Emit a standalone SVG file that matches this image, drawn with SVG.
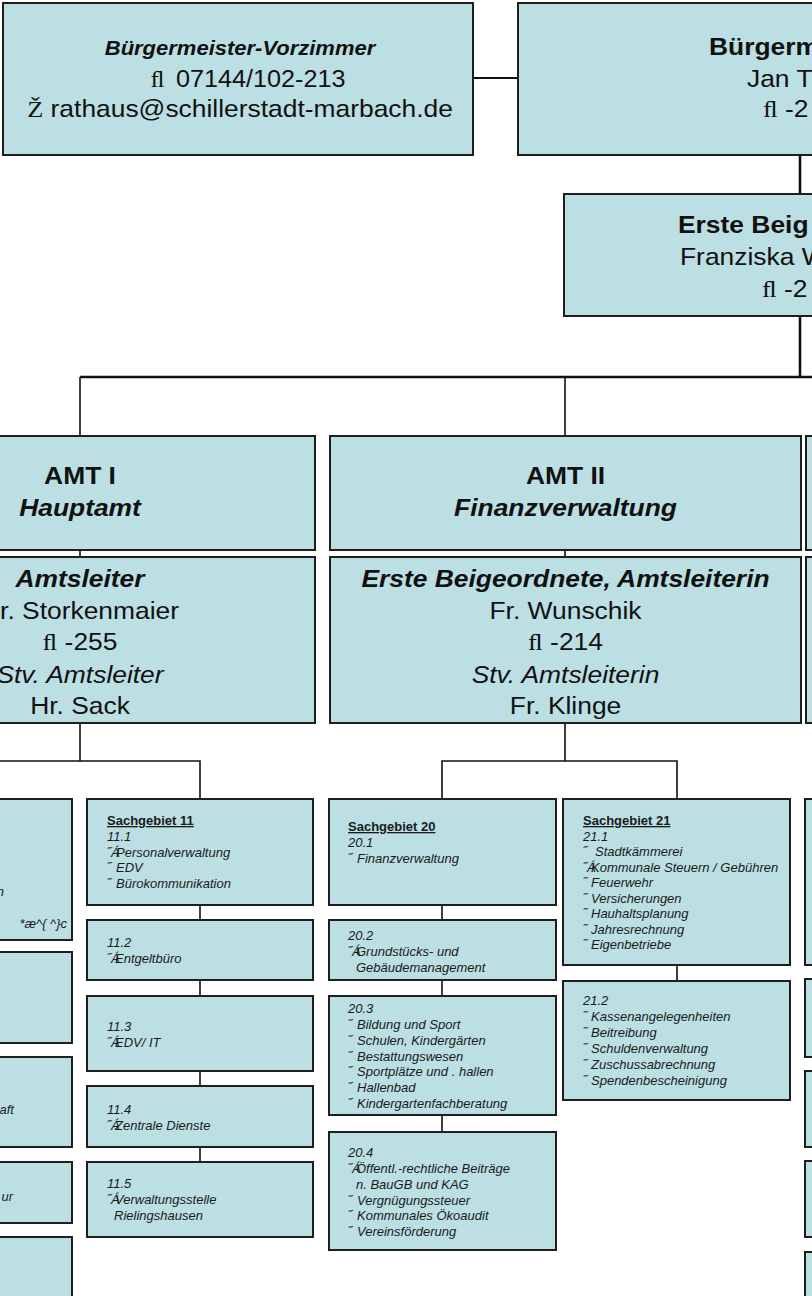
<svg xmlns="http://www.w3.org/2000/svg" width="812" height="1296" viewBox="0 0 812 1296">
<style>
.box{fill:#BBDFE3;stroke:#1e1e1e;stroke-width:2}
.c{stroke:#111;stroke-width:1.6;fill:none}
.tk{stroke-width:2.6}
.B{font-family:"Liberation Sans",Arial,sans-serif;font-size:24px;fill:#111;text-anchor:middle}
.L{text-anchor:start}
.b{font-weight:bold}
.i{font-style:italic}
.sym{font-family:"Liberation Serif","DejaVu Serif",serif;font-style:normal;font-weight:normal}
.s{font-family:"Liberation Sans",Arial,sans-serif;font-size:13px;font-style:italic;fill:#1a1a1a}
.e{text-anchor:end}
.h{font-style:normal;font-weight:bold;text-decoration:underline}
</style>
<rect width="812" height="1296" fill="#ffffff"/>

<g id="connectors">
  <line class="c" x1="473" y1="78" x2="518" y2="78" style="stroke-width:2"/>
  <line class="c tk" x1="800" y1="155" x2="800" y2="194"/>
  <line class="c tk" x1="800" y1="316" x2="800" y2="377"/>
  <line class="c tk" x1="80" y1="377" x2="812" y2="377"/>
  <line class="c" x1="80" y1="377" x2="80" y2="436"/>
  <line class="c" x1="565" y1="377" x2="565" y2="436"/>
  <line class="c" x1="80" y1="550" x2="80" y2="557"/>
  <line class="c" x1="565" y1="550" x2="565" y2="557"/>
  <polyline class="c" points="80,723 80,761"/>
  <polyline class="c" points="0,761 200,761 200,799"/>
  <polyline class="c" points="565,723 565,761"/>
  <polyline class="c" points="442,799 442,761 677,761 677,799"/>
  <line class="c" x1="200" y1="905" x2="200" y2="920"/>
  <line class="c" x1="200" y1="980" x2="200" y2="996"/>
  <line class="c" x1="200" y1="1071" x2="200" y2="1086"/>
  <line class="c" x1="200" y1="1147" x2="200" y2="1162"/>
  <line class="c" x1="442" y1="905" x2="442" y2="920"/>
  <line class="c" x1="442" y1="980" x2="442" y2="996"/>
  <line class="c" x1="442" y1="1115" x2="442" y2="1132"/>
  <line class="c" x1="677" y1="965" x2="677" y2="981"/>
</g>

<g id="vorzimmer">
  <rect class="box" x="3" y="3" width="470" height="152"/>
  <g transform="translate(240 0) scale(1.1 1)">
    <text class="B b i" x="0" y="55" style="font-size:20px">Bürgermeister-Vorzimmer</text>
    <text class="B" x="0" y="117"><tspan class="sym">Ž</tspan> rathaus@schillerstadt-marbach.de</text>
  </g>
  <g transform="translate(248 0) scale(1.05 1)">
    <text class="B" x="0" y="87"><tspan class="sym">ﬂ</tspan><tspan dx="11">07144/102-213</tspan></text>
  </g>
</g>

<g id="buergermeister">
  <rect class="box" x="518" y="3" width="600" height="152"/>
  <g transform="translate(709 0) scale(1.1 1)"><text class="B L b" x="0" y="55">Bürgerm</text></g>
  <g transform="translate(747 0) scale(1.1 1)"><text class="B L" x="0" y="87">Jan T</text></g>
  <g transform="translate(763 0) scale(1.1 1)"><text class="B L" x="0" y="117"><tspan class="sym">ﬂ</tspan> -2</text></g>
</g>

<g id="erste-beigeordnete">
  <rect class="box" x="564" y="194" width="600" height="122"/>
  <g transform="translate(678 0) scale(1.1 1)"><text class="B L b" x="0" y="233">Erste Beig</text></g>
  <g transform="translate(680 0) scale(1.1 1)"><text class="B L" x="0" y="265">Franziska W</text></g>
  <g transform="translate(762 0) scale(1.1 1)"><text class="B L" x="0" y="297"><tspan class="sym">ﬂ</tspan> -2</text></g>
</g>

<g id="amt1">
  <rect class="box" x="-155" y="436" width="470" height="114"/>
  <g transform="translate(80 0) scale(1.1 1)">
    <text class="B b" x="0" y="484">AMT I</text>
    <text class="B b i" x="0" y="516">Hauptamt</text>
  </g>
</g>
<g id="amt1-leitung">
  <rect class="box" x="-155" y="557" width="470" height="166"/>
  <g transform="translate(80 0) scale(1.1 1)">
    <text class="B b i" x="0" y="587">Amtsleiter</text>
    <text class="B" x="0" y="619">Hr. Storkenmaier</text>
    <text class="B" x="0" y="650"><tspan class="sym">ﬂ</tspan> -255</text>
    <text class="B i" x="0" y="683">Stv. Amtsleiter</text>
    <text class="B" x="0" y="714">Hr. Sack</text>
  </g>
</g>

<g id="amt2">
  <rect class="box" x="330" y="436" width="471" height="114"/>
  <g transform="translate(565.5 0) scale(1.1 1)">
    <text class="B b" x="0" y="484">AMT II</text>
    <text class="B b i" x="0" y="516">Finanzverwaltung</text>
  </g>
</g>
<g id="amt2-leitung">
  <rect class="box" x="330" y="557" width="471" height="166"/>
  <g transform="translate(565.5 0) scale(1.1 1)">
    <text class="B b i" x="0" y="587">Erste Beigeordnete, Amtsleiterin</text>
    <text class="B" x="0" y="619">Fr. Wunschik</text>
    <text class="B" x="0" y="650"><tspan class="sym">ﬂ</tspan> -214</text>
    <text class="B i" x="0" y="683">Stv. Amtsleiterin</text>
    <text class="B" x="0" y="714">Fr. Klinge</text>
  </g>
</g>

<g id="amt3">
  <rect class="box" x="806" y="436" width="471" height="114"/>
</g>
<g id="amt3-leitung">
  <rect class="box" x="806" y="557" width="471" height="166"/>
</g>

<g id="sg10-1">
  <rect class="box" x="-155" y="799" width="227" height="141"/>
  <text class="s e" x="4" y="896">n</text>
  <text class="s e" x="67" y="928">*æ^{ ^}c</text>
</g>
<g id="sg10-2"><rect class="box" x="-155" y="952" width="227" height="91"/></g>
<g id="sg10-3">
  <rect class="box" x="-155" y="1057" width="227" height="90"/>
  <text class="s e" x="14" y="1114">aft</text>
</g>
<g id="sg10-4">
  <rect class="box" x="-155" y="1162" width="227" height="61"/>
  <text class="s e" x="13" y="1201">ur</text>
</g>
<g id="sg10-5"><rect class="box" x="-155" y="1237" width="227" height="90"/></g>

<g id="sg11">
  <rect class="box" x="87" y="799" width="226" height="106"/>
  <text class="s h" x="107" y="825">Sachgebiet 11</text>
  <text class="s" x="107" y="841">11.1</text>
  <text class="s" x="107" y="857">˝<tspan x="111">Á</tspan><tspan x="116">Personalverwaltung</tspan></text>
  <text class="s" x="107" y="872">˝<tspan x="116">EDV</tspan></text>
  <text class="s" x="107" y="888">˝<tspan x="116">Bürokommunikation</tspan></text>
</g>
<g id="sg11-2">
  <rect class="box" x="87" y="920" width="226" height="60"/>
  <text class="s" x="107" y="947">11.2</text>
  <text class="s" x="107" y="963">˝<tspan x="111">Á</tspan><tspan x="115">Entgeltbüro</tspan></text>
</g>
<g id="sg11-3">
  <rect class="box" x="87" y="996" width="226" height="75"/>
  <text class="s" x="107" y="1031">11.3</text>
  <text class="s" x="107" y="1047">˝<tspan x="111">Á</tspan><tspan x="115">EDV/ IT</tspan></text>
</g>
<g id="sg11-4">
  <rect class="box" x="87" y="1086" width="226" height="61"/>
  <text class="s" x="107" y="1114">11.4</text>
  <text class="s" x="107" y="1130">˝<tspan x="111">Á</tspan><tspan x="115">Zentrale Dienste</tspan></text>
</g>
<g id="sg11-5">
  <rect class="box" x="87" y="1162" width="226" height="75"/>
  <text class="s" x="107" y="1188">11.5</text>
  <text class="s" x="107" y="1204">˝<tspan x="111">Á</tspan><tspan x="115">Verwaltungsstelle</tspan></text>
  <text class="s" x="114" y="1220">Rielingshausen</text>
</g>

<g id="sg20">
  <rect class="box" x="329" y="799" width="227" height="106"/>
  <text class="s h" x="348" y="831">Sachgebiet 20</text>
  <text class="s" x="348" y="847">20.1</text>
  <text class="s" x="348" y="863">˝<tspan x="357">Finanzverwaltung</tspan></text>
</g>
<g id="sg20-2">
  <rect class="box" x="329" y="920" width="227" height="60"/>
  <text class="s" x="348" y="940">20.2</text>
  <text class="s" x="348" y="956">˝<tspan x="352">Á</tspan><tspan x="356">Grundstücks- und</tspan></text>
  <text class="s" x="356" y="972">Gebäudemanagement</text>
</g>
<g id="sg20-3">
  <rect class="box" x="329" y="996" width="227" height="119"/>
  <text class="s" x="348" y="1013">20.3</text>
  <text class="s" x="348" y="1029">˝<tspan x="357">Bildung und Sport</tspan></text>
  <text class="s" x="348" y="1045">˝<tspan x="357">Schulen, Kindergärten</tspan></text>
  <text class="s" x="348" y="1061">˝<tspan x="357">Bestattungswesen</tspan></text>
  <text class="s" x="348" y="1076">˝<tspan x="357">Sportplätze und . hallen</tspan></text>
  <text class="s" x="348" y="1092">˝<tspan x="357">Hallenbad</tspan></text>
  <text class="s" x="348" y="1108">˝<tspan x="357">Kindergartenfachberatung</tspan></text>
</g>
<g id="sg20-4">
  <rect class="box" x="329" y="1132" width="227" height="118"/>
  <text class="s" x="348" y="1157">20.4</text>
  <text class="s" x="348" y="1173">˝<tspan x="352">Á</tspan><tspan x="356">Öffentl.-rechtliche Beiträge</tspan></text>
  <text class="s" x="356" y="1189">n. BauGB und KAG</text>
  <text class="s" x="348" y="1205">˝<tspan x="357">Vergnügungssteuer</tspan></text>
  <text class="s" x="348" y="1220">˝<tspan x="357">Kommunales Ökoaudit</tspan></text>
  <text class="s" x="348" y="1236">˝<tspan x="357">Vereinsförderung</tspan></text>
</g>

<g id="sg21">
  <rect class="box" x="563" y="799" width="227" height="166"/>
  <text class="s h" x="583" y="825">Sachgebiet 21</text>
  <text class="s" x="583" y="840.5">21.1</text>
  <text class="s" x="583" y="856">˝<tspan x="595">Stadtkämmerei</tspan></text>
  <text class="s" x="583" y="871.5">˝<tspan x="587">Á</tspan><tspan x="591">Kommunale Steuern / Gebühren</tspan></text>
  <text class="s" x="583" y="887">˝<tspan x="591">Feuerwehr</tspan></text>
  <text class="s" x="583" y="902.5">˝<tspan x="591">Versicherungen</tspan></text>
  <text class="s" x="583" y="918">˝<tspan x="591">Hauhaltsplanung</tspan></text>
  <text class="s" x="583" y="933.5">˝<tspan x="591">Jahresrechnung</tspan></text>
  <text class="s" x="583" y="949">˝<tspan x="591">Eigenbetriebe</tspan></text>
</g>
<g id="sg21-2">
  <rect class="box" x="563" y="981" width="227" height="119"/>
  <text class="s" x="583" y="1005">21.2</text>
  <text class="s" x="583" y="1021">˝<tspan x="591">Kassenangelegenheiten</tspan></text>
  <text class="s" x="583" y="1037">˝<tspan x="591">Beitreibung</tspan></text>
  <text class="s" x="583" y="1053">˝<tspan x="591">Schuldenverwaltung</tspan></text>
  <text class="s" x="583" y="1069">˝<tspan x="591">Zuschussabrechnung</tspan></text>
  <text class="s" x="583" y="1085">˝<tspan x="591">Spendenbescheinigung</tspan></text>
</g>

<g id="sg30-1"><rect class="box" x="805" y="799" width="227" height="166"/></g>
<g id="sg30-2"><rect class="box" x="805" y="979" width="227" height="78"/></g>
<g id="sg30-3"><rect class="box" x="805" y="1071" width="227" height="76"/></g>
<g id="sg30-4"><rect class="box" x="805" y="1161" width="227" height="76"/></g>
<g id="sg30-5"><rect class="box" x="805" y="1252" width="227" height="80"/></g>
</svg>
